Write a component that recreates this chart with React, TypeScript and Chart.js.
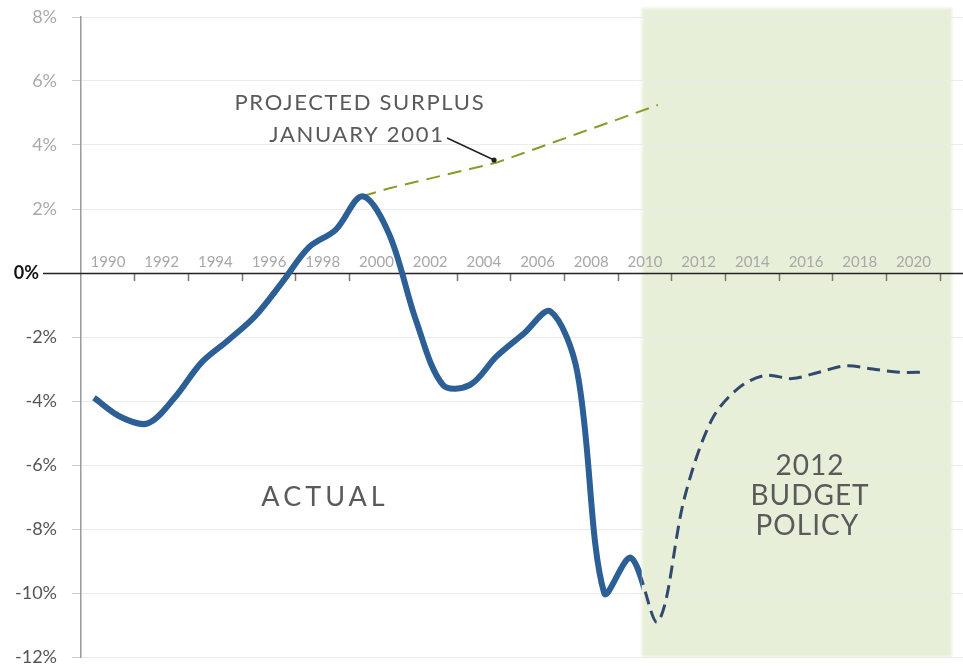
import React, { useEffect, useRef } from 'react';
import { Chart, registerables } from 'chart.js';

Chart.register(...registerables);

// ---------- DATA ----------
const ACTUAL_YEARS = [1990, 1991, 1992, 1993, 1994, 1995, 1996, 1997, 1998, 1999, 2000, 2001, 2002, 2003, 2004, 2005, 2006, 2007, 2008, 2009, 2010];
const ACTUAL_VALUES = [-3.9, -4.5, -4.7, -3.9, -2.8, -2.1, -1.35, -0.3, 0.8, 1.35, 2.4, 1.2, -1.5, -3.5, -3.5, -2.6, -1.9, -1.2, -3.1, -10.0, -8.9];

const BUDGET_YEARS = [2011, 2012, 2013, 2014, 2015, 2016, 2017, 2018, 2019, 2020, 2021];
const BUDGET_VALUES = [-10.9, -7.0, -4.6, -3.6, -3.2, -3.3, -3.1, -2.9, -3.0, -3.1, -3.1];

const SURPLUS_YEARS = [2000, 2001, 2002, 2003, 2004, 2005, 2006, 2007, 2008, 2009, 2010, 2011];
const SURPLUS_VALUES = [2.4, 2.65, 2.85, 3.05, 3.25, 3.45, 3.75, 4.05, 4.35, 4.65, 4.95, 5.25];

const X_TICK_LABELS = ['1990', '1992', '1994', '1996', '1998', '2000', '2002', '2004', '2006', '2008', '2010', '2012', '2014', '2016', '2018', '2020'];
const Y_TICKS = [8, 6, 4, 2, 0, -2, -4, -6, -8, -10, -12];

// ---------- LAYOUT CONSTANTS ----------
const X_MIN = 1989.516;
const X_MAX = 2022.365;
const LABEL_OFFSET = 0.52;
const SPLIT_YEAR = 2010.4; // where actual (solid) ends and the budget policy shading begins
const SHADE_END = 2021.95;
const SHADE_TOP = 8.28;

const FONT = 'Lato, "Open Sans", sans-serif';
const TEXT_COLOR = '#5a5a5a';

const deficitPoints = [
  ...ACTUAL_YEARS.map((x, i) => ({ x, y: ACTUAL_VALUES[i] })),
  ...BUDGET_YEARS.map((x, i) => ({ x, y: BUDGET_VALUES[i] })),
];
const surplusPoints = SURPLUS_YEARS.map((x, i) => ({ x, y: SURPLUS_VALUES[i] }));

const xTicks: { value: number }[] = [];
X_TICK_LABELS.forEach((lab) => {
  const yr = Number(lab);
  xTicks.push({ value: yr + LABEL_OFFSET });
  xTicks.push({ value: yr + 1 + LABEL_OFFSET });
});

const shadePlugin = {
  id: 'shade',
  beforeDraw(chart: any) {
    const { ctx, scales } = chart;
    const x = scales.x, y = scales.y;
    const x0 = x.getPixelForValue(SPLIT_YEAR);
    const x1 = x.getPixelForValue(SHADE_END);
    const y0 = y.getPixelForValue(SHADE_TOP);
    const y1 = y.getPixelForValue(-12);
    ctx.save();
    ctx.filter = 'blur(1.5px)';
    ctx.fillStyle = '#e8efd8';
    ctx.fillRect(x0, y0, x1 - x0, y1 - y0);
    ctx.restore();
  },
};

const splitClipPlugin = {
  id: 'splitClip',
  beforeDatasetDraw(chart: any, args: any) {
    const ds = chart.data.datasets[args.index];
    if (!ds.splitSide) return;
    const { ctx } = chart;
    const xs = chart.scales.x.getPixelForValue(SPLIT_YEAR);
    ctx.save();
    ctx.beginPath();
    if (ds.splitSide === 'left') ctx.rect(0, 0, xs, chart.height);
    else ctx.rect(xs, 0, chart.width - xs, chart.height);
    ctx.clip();
  },
  afterDatasetDraw(chart: any, args: any) {
    const ds = chart.data.datasets[args.index];
    if (!ds.splitSide) return;
    chart.ctx.restore();
  },
};

const zeroLinePlugin = {
  id: 'zeroLine',
  beforeDatasetsDraw(chart: any) {
    const { ctx } = chart;
    const y0 = Math.round(chart.scales.y.getPixelForValue(0)) + 0.5;
    ctx.save();
    ctx.strokeStyle = '#222';
    ctx.lineWidth = 1.5;
    ctx.beginPath();
    ctx.moveTo(43, y0);
    ctx.lineTo(chart.width, y0);
    ctx.stroke();
    ctx.fillStyle = '#111';
    ctx.font = `bold 18px ${FONT}`;
    ctx.textAlign = 'right';
    ctx.textBaseline = 'middle';
    ctx.fillText('0%', 39, y0);
    ctx.restore();
  },
};

function drawText(ctx: any, text: string, px: number, py: number, size: number, spacing: number) {
  ctx.font = `${size}px ${FONT}`;
  (ctx as any).letterSpacing = `${spacing}px`;
  ctx.textAlign = 'center';
  ctx.textBaseline = 'middle';
  ctx.fillText(text, px + spacing / 2, py);
}

const annotationPlugin = {
  id: 'annotations',
  afterDatasetsDraw(chart: any) {
    const { ctx } = chart;
    const x = chart.scales.x, y = chart.scales.y;
    const X = (v: number) => x.getPixelForValue(v);
    const Y = (v: number) => y.getPixelForValue(v);
    ctx.save();
    ctx.fillStyle = TEXT_COLOR;
    drawText(ctx, 'PROJECTED SURPLUS', X(1999.87), Y(5.31), 22, 1.7);
    drawText(ctx, 'JANUARY 2001', X(1999.76), Y(4.31), 22, 1.7);
    drawText(ctx, 'ACTUAL', X(1998.53), Y(-7.0), 27, 4);
    drawText(ctx, '2012', X(2016.65), Y(-6.02), 28, 1);
    drawText(ctx, 'BUDGET', X(2016.65), Y(-6.97), 28, 1);
    drawText(ctx, 'POLICY', X(2016.55), Y(-7.9), 28, 1);
    (ctx as any).letterSpacing = '0px';
    // pointer from label to the surplus line
    ctx.strokeStyle = '#222';
    ctx.lineWidth = 1.5;
    ctx.beginPath();
    ctx.moveTo(X(2003.15), Y(4.22));
    ctx.lineTo(X(2004.9), Y(3.53));
    ctx.stroke();
    ctx.fillStyle = '#222';
    ctx.beginPath();
    ctx.arc(X(2004.9), Y(3.53), 2.6, 0, Math.PI * 2);
    ctx.fill();
    ctx.restore();
  },
};

export default function App() {
  const canvasRef = useRef<HTMLCanvasElement | null>(null);

  useEffect(() => {
    if (!canvasRef.current) return;
    Chart.defaults.font.family = FONT;
    const chart = new Chart(canvasRef.current, {
      type: 'line',
      data: {
        datasets: [
          {
            label: 'Actual',
            data: deficitPoints,
            borderColor: '#2c5f96',
            borderWidth: 6,
            pointRadius: 0,
            tension: 0.33,
            splitSide: 'left',
          } as any,
          {
            label: '2012 Budget Policy',
            data: deficitPoints,
            borderColor: '#30496d',
            borderWidth: 3,
            borderDash: [13, 7],
            pointRadius: 0,
            tension: 0.33,
            splitSide: 'right',
          } as any,
          {
            label: 'Projected surplus January 2001',
            data: surplusPoints,
            borderColor: '#8a9a2a',
            borderWidth: 2,
            borderDash: [14, 8],
            pointRadius: 0,
            tension: 0,
          },
        ],
      },
      options: {
        animation: false,
        responsive: false,
        maintainAspectRatio: false,
        layout: { padding: { top: 17, bottom: 9, left: 0, right: 0 } },
        plugins: { legend: { display: false }, tooltip: { enabled: false } },
        scales: {
          x: {
            type: 'linear',
            min: X_MIN,
            max: X_MAX,
            position: { y: 0 } as any,
            afterBuildTicks: (scale: any) => {
              scale.ticks = xTicks.map((t) => ({ ...t }));
            },
            ticks: {
              autoSkip: false,
              maxRotation: 0,
              minRotation: 0,
              padding: -28,
              color: '#a8a8a8',
              font: { family: FONT, size: 15 },
              callback: (_v: any, i: number) => (i % 2 === 0 ? X_TICK_LABELS[i / 2] : ''),
            },
            grid: {
              drawOnChartArea: false,
              drawTicks: true,
              tickLength: 8,
              tickWidth: 1.5,
              tickColor: (c: any) => (c.index % 2 === 1 ? '#777' : 'rgba(0,0,0,0)'),
            },
            border: { display: false },
          },
          y: {
            type: 'linear',
            min: -12,
            max: 8,
            afterBuildTicks: (scale: any) => {
              scale.ticks = Y_TICKS.map((v) => ({ value: v }));
            },
            afterFit: (scale: any) => {
              scale.width = 81;
              scale.paddingTop = 9;
              scale.paddingBottom = 9;
            },
            ticks: {
              padding: 15,
              color: (c: any) => (c.tick && c.tick.value > 0 ? '#aaaaaa' : '#555555'),
              font: { family: FONT, size: 18 },
              callback: (v: any) => (Number(v) === 0 ? '' : `${v}%`),
            },
            grid: {
              color: (c: any) => (c.tick && c.tick.value === 0 ? 'rgba(0,0,0,0)' : '#ebebeb'),
              lineWidth: 1,
              tickLength: 9,
              tickColor: '#cccccc',
            },
            border: { color: '#9a9a9a', width: 1.5 },
          },
        },
      },
      plugins: [shadePlugin, splitClipPlugin, zeroLinePlugin, annotationPlugin],
    } as any);
    return () => chart.destroy();
  }, []);

  return (
    <div style={{ position: 'fixed', left: 0, top: 0, width: 963, height: 666, background: '#fff' }}>
      <canvas ref={canvasRef} width={963} height={666} style={{ width: 963, height: 666, display: 'block' }} />
    </div>
  );
}
